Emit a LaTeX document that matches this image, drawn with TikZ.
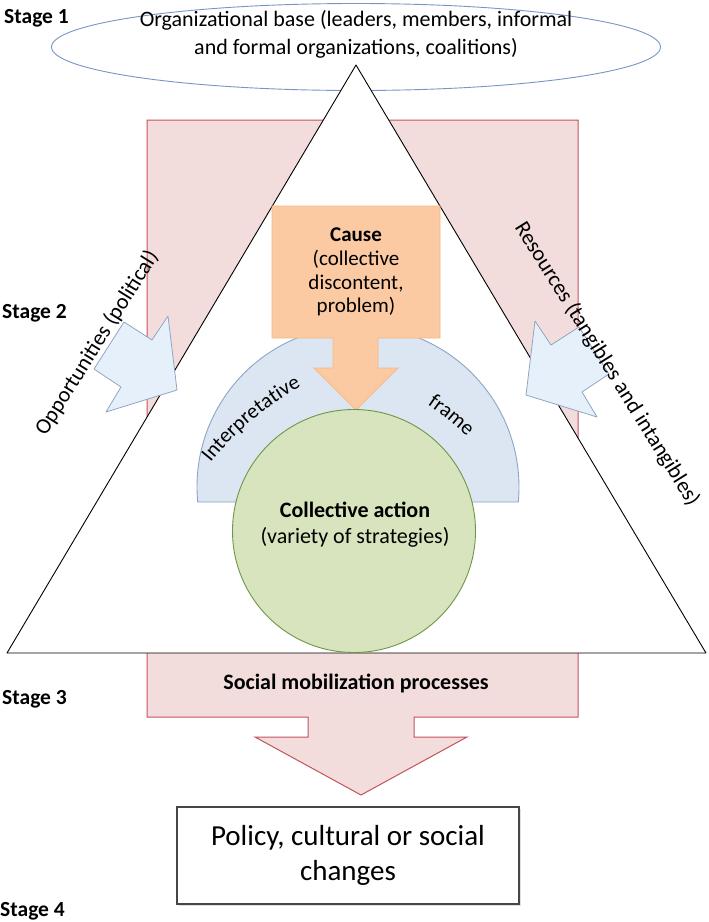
\documentclass[tikz,border=0pt]{standalone}
\usepackage{fontspec}
\setmainfont{Carlito}
\usetikzlibrary{shapes.geometric,decorations.text,shadows}
\definecolor{redfill}{RGB}{242,220,220}
\definecolor{redline}{RGB}{196,84,92}
\definecolor{ellline}{RGB}{120,150,195}
\definecolor{framefill}{RGB}{220,230,242}
\definecolor{frameline}{RGB}{140,165,200}
\definecolor{orangefill}{RGB}{251,202,162}
\definecolor{orangeline}{RGB}{246,184,134}
\definecolor{greenfill}{RGB}{215,228,189}
\definecolor{greenline}{RGB}{110,150,70}
\definecolor{bluefill}{RGB}{230,240,251}
\definecolor{blueline}{RGB}{145,165,195}
\definecolor{boxline}{RGB}{70,70,70}
\tikzset{
  stagelbl/.style={font=\fontsize{21.5}{25}\selectfont\bfseries, anchor=west, inner sep=0pt},
  sidelbl/.style={font=\fontsize{22}{26}\selectfont, inner sep=0pt},
  blockarrow/.style={fill=bluefill, draw=blueline, line width=0.8pt, line join=round},
}
\begin{document}
\begin{tikzpicture}[x=1pt,y=-1pt]
\useasboundingbox[fill=white] (0,0) rectangle (709,922);

% red background shape with down arrow
\draw[fill=redfill, draw=redline, line width=1pt]
  (147,120) -- (578,120) -- (578,717) -- (414,717) -- (414,737) -- (467,737)
  -- (361,795) -- (255,737) -- (308,737) -- (308,717) -- (147,717) -- cycle;

% organizational base ellipse
\node[ellipse, draw=ellline, fill=white, line width=0.9pt, minimum width=609pt, minimum height=87pt, inner sep=0pt] (orgell) at (356,47) {};

% triangle
\coordinate (apex) at (356,65);
\coordinate (bl) at (7,653);
\coordinate (br) at (706,653);
\draw[fill=white, line width=0.9pt, line join=round] (apex) -- (bl) -- (br) -- cycle;

% blue arrows
\draw[blockarrow] (124,322) -- (152,340) -- (168,316) -- (177,390) -- (106,412) -- (121,387) -- (94,369) -- cycle;
\draw[blockarrow] (579,327) -- (551,345) -- (535,321) -- (526,395) -- (597,417) -- (582,392) -- (609,374) -- cycle;

% interpretative frame (circular segment cut just below its centre)
\draw[fill=framefill, draw=frameline, line width=0.9pt]
  (358,487) ++(174.65:161) arc[start angle=174.65, end angle=365.35, radius=161] -- cycle;

% cause arrow
\draw[fill=orangefill, draw=orangeline, line width=0.9pt]
  (272,206) -- (440,206) -- (440,338) -- (378,338) -- (378,368) -- (398,368)
  -- (356,410) -- (314,368) -- (333,368) -- (333,338) -- (272,338) -- cycle;

% collective action circle
\node[circle, draw=greenline, fill=greenfill, line width=0.9pt, minimum size=243pt, inner sep=0pt] (ca) at (354,531) {};

% frame texts along gentle arcs
\path[decorate, decoration={text along path, text align=center,
  text={|\fontsize{21}{21}\selectfont|Interpretative}}]
  (445,650) ++(-150:300) arc[start angle=-150, end angle=-110, radius=300];
\path[decorate, decoration={text along path, text align=center,
  text={|\fontsize{21}{21}\selectfont|frame}}]
  (259,653) ++(-70:300) arc[start angle=-70, end angle=-32, radius=300];

% texts
\node[align=center, font=\fontsize{22}{28}\selectfont, inner sep=0pt] (orgtxt) at (356,34)
  {Organizational base (leaders, members, informal\\and formal organizations, coalitions)};
\node[align=center, font=\fontsize{21}{23.6}\selectfont, inner sep=0pt] (causetxt) at (356,272)
  {\textbf{Cause}\\(collective\\discontent,\\problem)};
\node[align=center, font=\fontsize{22}{26}\selectfont, inner sep=0pt] (catxt) at (355,525)
  {\textbf{Collective action}\\(variety of strategies)};
\node[font=\fontsize{22}{26}\selectfont\bfseries, inner sep=0pt] (smp) at (356,683) {Social mobilization processes};
\node[sidelbl, rotate=58] (opp) at (97,343) {Opportunities (political)};
\node[sidelbl, rotate=-58] (res) at (607,364) {Resources (tangibles and intangibles)};

% policy box
\node[draw=boxline, line width=1.2pt, fill=white, minimum width=342pt, minimum height=97pt,
  align=center, font=\fontsize{29}{35}\selectfont,
  drop shadow={shadow xshift=2pt, shadow yshift=-2pt, opacity=0.25}] (policy) at (348,855.5)
  {Policy, cultural or social\\changes};

% stage labels
\node[stagelbl] (s1) at (4,18) {Stage 1};
\node[stagelbl] (s2) at (2,313) {Stage 2};
\node[stagelbl] (s3) at (2,699) {Stage 3};
\node[stagelbl] (s4) at (0,911) {Stage 4};
\end{tikzpicture}
\end{document}
